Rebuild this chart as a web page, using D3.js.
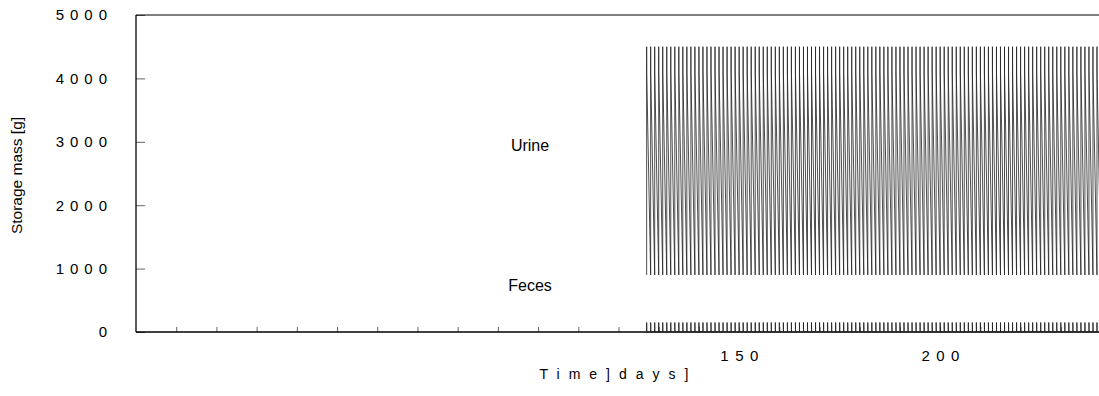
<!DOCTYPE html>
<html>
<head>
<meta charset="utf-8">
<script src="https://cdn.jsdelivr.net/npm/d3@7"></script>
<style>
  body { margin: 0; background: #fff; }
  text { font-family: "Liberation Sans", Arial, sans-serif; fill: #000; }
</style>
</head>
<body>
<div id="chart"></div>
<script>
// simulated storage: daily fill/empty cycle of the urine and feces tanks
const firstDay = 127;
const lastDay = 240;
// one day of the cycle: [offset in days, mass g]
const urineCycle = [[0, 900], [0, 4500], [0.01, 4100], [1, 900]];
const fecesCycle = [[0, 0], [0, 150], [0.04, 0], [1, 0]];

const yTicks = [0, 1000, 2000, 3000, 4000, 5000];
const xTicks = [10, 20, 30, 40, 50, 60, 70, 80, 90, 100, 110, 120, 130, 140, 150,
  160, 170, 180, 190, 200, 210, 220, 230, 240];
const xLabels = [150, 200];

const seriesLabels = [
  {name: 'Urine', day: 98, value: 2850},
  {name: 'Feces', day: 98, value: 640}
];

const width = 1099, height = 396;
const margin = {top: 15, right: -2, bottom: 64, left: 136};
const plotWidth = width - margin.left - margin.right;
const plotHeight = height - margin.top - margin.bottom;
const gothic = '"DejaVu Sans", sans-serif';

function repeatCycle(cycle) {
  let pts = [];
  for (let d = firstDay; d < lastDay; d++) {
    cycle.forEach(c => pts.push({day: d + c[0], mass: c[1]}));
  }
  return pts;
}
const urine = repeatCycle(urineCycle);
const feces = repeatCycle(fecesCycle);

let svg = d3.select('#chart').append('svg')
    .attr('width', width)
    .attr('height', height)
    .append('g')
        .attr('transform', `translate(${margin.left},${margin.top})`);

const x = d3.scaleLinear().domain([0, 240]).range([0, plotWidth]);
const y = d3.scaleLinear().domain([0, 5000]).range([plotHeight, 0]);

svg.append('defs').append('clipPath').attr('id', 'clip')
  .append('rect').attr('width', plotWidth).attr('height', plotHeight + 1);

// axes
const yAxis = svg.append('g')
    .call(d3.axisLeft(y).tickValues(yTicks).tickSize(-9).tickPadding(23)
      .tickFormat(d => d));
yAxis.select('.domain').remove();
yAxis.selectAll('.tick line').attr('stroke', '#666');
yAxis.selectAll('.tick text')
    .attr('font-size', 15)
    .attr('letter-spacing', '6px')
    .attr('font-family', gothic);

const xAxis = svg.append('g')
    .attr('transform', `translate(0,${plotHeight})`)
    .call(d3.axisBottom(x).tickValues(xTicks).tickSize(-5).tickPadding(18)
      .tickFormat(d => xLabels.includes(d) ? d : ''));
xAxis.select('.domain').remove();
xAxis.selectAll('.tick line').attr('stroke', '#666');
xAxis.selectAll('.tick text')
    .attr('font-size', 15)
    .attr('letter-spacing', '6.5px')
    .attr('dx', '3px')
    .attr('font-family', gothic);

// frame lines
svg.append('line').attr('x1', 0).attr('x2', 0).attr('y1', 0).attr('y2', plotHeight)
    .attr('stroke', '#000').attr('stroke-width', 1.3);
svg.append('line').attr('x1', 0).attr('x2', plotWidth).attr('y1', plotHeight).attr('y2', plotHeight)
    .attr('stroke', '#000').attr('stroke-width', 1.3);
svg.append('line').attr('x1', 0).attr('x2', plotWidth).attr('y1', 0).attr('y2', 0)
    .attr('stroke', '#000').attr('stroke-width', 1);

// series
const line = d3.line().x(d => x(d.day)).y(d => y(d.mass));
svg.append('path')
    .datum(urine)
    .attr('clip-path', 'url(#clip)')
    .attr('fill', 'none')
    .attr('stroke', '#222')
    .attr('stroke-width', 0.8)
    .attr('d', line);
svg.append('path')
    .datum(feces)
    .attr('clip-path', 'url(#clip)')
    .attr('fill', 'none')
    .attr('stroke', '#222')
    .attr('stroke-width', 0.9)
    .attr('d', line);

svg.selectAll('.slabel')
    .data(seriesLabels)
    .enter()
    .append('text')
        .attr('x', d => x(d.day))
        .attr('y', d => y(d.value))
        .attr('text-anchor', 'middle')
        .attr('font-size', 16)
        .text(d => d.name);

// axis titles
svg.append('text')
    .attr('transform', `translate(${-114},${plotHeight / 2 + 2}) rotate(-90)`)
    .attr('text-anchor', 'middle')
    .attr('font-size', 15.5)
    .text('Storage mass [g]');

svg.append('text')
    .attr('x', x(120))
    .attr('y', plotHeight + 47)
    .attr('text-anchor', 'middle')
    .attr('font-size', 14)
    .attr('letter-spacing', '9px')
    .attr('font-family', gothic)
    .text('Time]days]');
</script>
</body>
</html>
